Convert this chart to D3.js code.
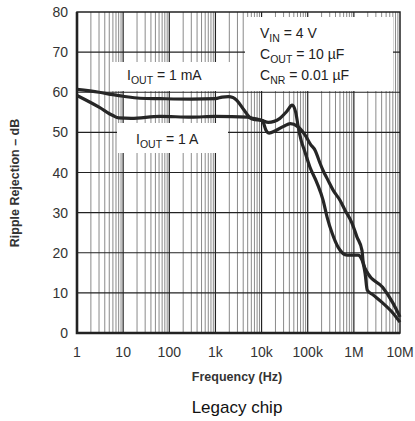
<!DOCTYPE html>
<html>
<head>
<meta charset="utf-8">
<script src="https://cdn.jsdelivr.net/npm/d3@7"></script>
<style>
  body { margin: 0; background: #fff; }
  text { font-family: "Liberation Sans", Arial, sans-serif; }
</style>
</head>
<body>
<div id="chart"></div>
<script>
// ripple rejection vs frequency
const xTickValues = [1, 10, 100, 1e3, 1e4, 1e5, 1e6, 1e7];
const xTickLabels = ["1", "10", "100", "1k", "10k", "100k", "1M", "10M"];
const yTickValues = [0, 10, 20, 30, 40, 50, 60, 70, 80];

const freq1mA = [1, 3, 6, 10, 23, 63, 300, 1000, 1400, 1900, 2400, 3000, 4200, 5500, 8000, 10500, 12500, 14500, 20000, 30000, 42000, 60000, 75000, 88000, 115000, 145000, 185000, 215000, 274000, 355000, 500000, 645000, 910000, 1170000, 1500000, 1600000, 2000000, 4200000, 7000000, 10000000];
const db1mA = [60.7, 60.0, 59.4, 59.0, 58.5, 58.4, 58.3, 58.4, 58.8, 58.9, 58.7, 57.8, 55.5, 53.8, 53.3, 52.8, 50.5, 49.8, 50.4, 51.5, 52.2, 51.5, 50.4, 49.3, 47.0, 45.5, 42.3, 40.5, 38.1, 35.6, 33.1, 30.6, 27.4, 23.9, 20.6, 17.5, 14.9, 11.4, 7.5, 4.0];

const freq1A = [1, 3, 6, 8, 15, 63, 300, 1000, 5000, 6500, 10000, 14000, 25000, 35000, 46000, 55000, 62000, 72000, 85000, 112000, 160000, 215000, 263000, 337000, 455000, 715000, 1230000, 1500000, 1750000, 1950000, 2600000, 4200000, 7000000, 10000000];
const db1A = [59.2, 56.3, 54.2, 53.6, 53.5, 54.0, 53.8, 54.0, 53.8, 53.3, 53.0, 52.5, 53.5, 55.2, 56.8, 55.0, 51.5, 48.0, 45.5, 41.3, 37.3, 33.1, 28.9, 24.9, 21.4, 19.4, 19.4, 18.2, 14.9, 10.7, 9.5, 7.5, 5.0, 2.7];

const W = 415, H = 421;
const margin = { top: 12, right: 15, bottom: 88, left: 77 };
const width = W - margin.left - margin.right;
const height = H - margin.top - margin.bottom;

const svg = d3.select("#chart").append("svg")
  .attr("width", W)
  .attr("height", H);

const g = svg.append("g")
  .attr("transform", `translate(${margin.left},${margin.top})`);

const x = d3.scaleLog().domain([1, 1e7]).range([0, width]);
const y = d3.scaleLinear().domain([0, 80]).range([height, 0]);

// vertical grid: every 1..9 of each decade
const minorTicks = x.ticks().filter(v => v > 1 && v < 1e7);
g.append("g")
  .selectAll("line")
  .data(minorTicks)
  .join("line")
  .attr("x1", d => x(d)).attr("x2", d => x(d))
  .attr("y1", 0).attr("y2", height)
  .attr("stroke", d => xTickValues.includes(d) ? "#222" : "#8a8a8a")
  .attr("stroke-width", d => xTickValues.includes(d) ? 1.2 : 1);

// horizontal grid
g.append("g")
  .selectAll("line")
  .data(yTickValues.filter(v => v > 0 && v < 80))
  .join("line")
  .attr("x1", 0).attr("x2", width)
  .attr("y1", d => y(d)).attr("y2", d => y(d))
  .attr("stroke", "#222")
  .attr("stroke-width", 1.2);

// white label boxes covering the grid
const boxes = [
  { x0: 112, x1: 230, y0: 62, y1: 91 },
  { x0: 117, x1: 228, y0: 123, y1: 153 },
  { x0: 245, x1: 393, y0: 17, y1: 91 }
];
svg.append("g")
  .selectAll("rect")
  .data(boxes)
  .join("rect")
  .attr("x", d => d.x0).attr("y", d => d.y0)
  .attr("width", d => d.x1 - d.x0)
  .attr("height", d => d.y1 - d.y0)
  .attr("fill", "#fff");

// frame
g.append("rect")
  .attr("width", width).attr("height", height)
  .attr("fill", "none")
  .attr("stroke", "#222")
  .attr("stroke-width", 1.5);
g.append("path")
  .attr("d", `M0,0V${height}H${width}`)
  .attr("fill", "none")
  .attr("stroke", "#222")
  .attr("stroke-width", 2.6);

// curves
const line = d3.line()
  .x(d => x(d[0]))
  .y(d => y(d[1]))
  .curve(d3.curveMonotoneX);

[[freq1mA, db1mA], [freq1A, db1A]].forEach(([f, v]) => {
  g.append("path")
    .datum(f.map((d, i) => [d, v[i]]))
    .attr("d", line)
    .attr("fill", "none")
    .attr("stroke", "#262626")
    .attr("stroke-width", 3.2)
    .attr("stroke-linejoin", "round");
});

// y tick labels
g.append("g")
  .selectAll("text")
  .data(yTickValues)
  .join("text")
  .attr("x", -9)
  .attr("y", d => y(d))
  .attr("dy", "0.36em")
  .attr("text-anchor", "end")
  .style("font-size", "14px")
  .style("fill", "#333")
  .text(d => d);

// x tick labels
g.append("g")
  .selectAll("text")
  .data(xTickValues)
  .join("text")
  .attr("x", d => x(d))
  .attr("y", height + 24)
  .attr("text-anchor", "middle")
  .style("font-size", "14px")
  .style("fill", "#333")
  .text((d, i) => xTickLabels[i]);

// axis titles
svg.append("text")
  .attr("x", 237).attr("y", 381)
  .attr("text-anchor", "middle")
  .style("font-size", "12.5px")
  .style("font-weight", "bold")
  .style("fill", "#333")
  .text("Frequency (Hz)");

svg.append("text")
  .attr("transform", "translate(19,183) rotate(-90)")
  .attr("text-anchor", "middle")
  .style("font-size", "12.5px")
  .style("font-weight", "bold")
  .style("fill", "#333")
  .text("Ripple Rejection \u2013 dB");

svg.append("text")
  .attr("x", 237).attr("y", 413)
  .attr("text-anchor", "middle")
  .style("font-size", "17px")
  .style("fill", "#111")
  .text("Legacy chip");

// annotations with subscripts
function subLabel(px, py, main, sub, rest) {
  const t = svg.append("text")
    .attr("x", px).attr("y", py)
    .style("font-size", "14px")
    .style("fill", "#222");
  t.append("tspan").text(main);
  t.append("tspan").attr("dy", 4).style("font-size", "10.5px").text(sub);
  t.append("tspan").attr("dy", -4).text(rest);
}

subLabel(127, 80, "I", "OUT", " = 1 mA");
subLabel(136, 144, "I", "OUT", " = 1 A");
subLabel(260, 38, "V", "IN", " = 4 V");
subLabel(260, 59, "C", "OUT", " = 10 \u00B5F");
subLabel(260, 80, "C", "NR", " = 0.01 \u00B5F");
</script>
</body>
</html>
